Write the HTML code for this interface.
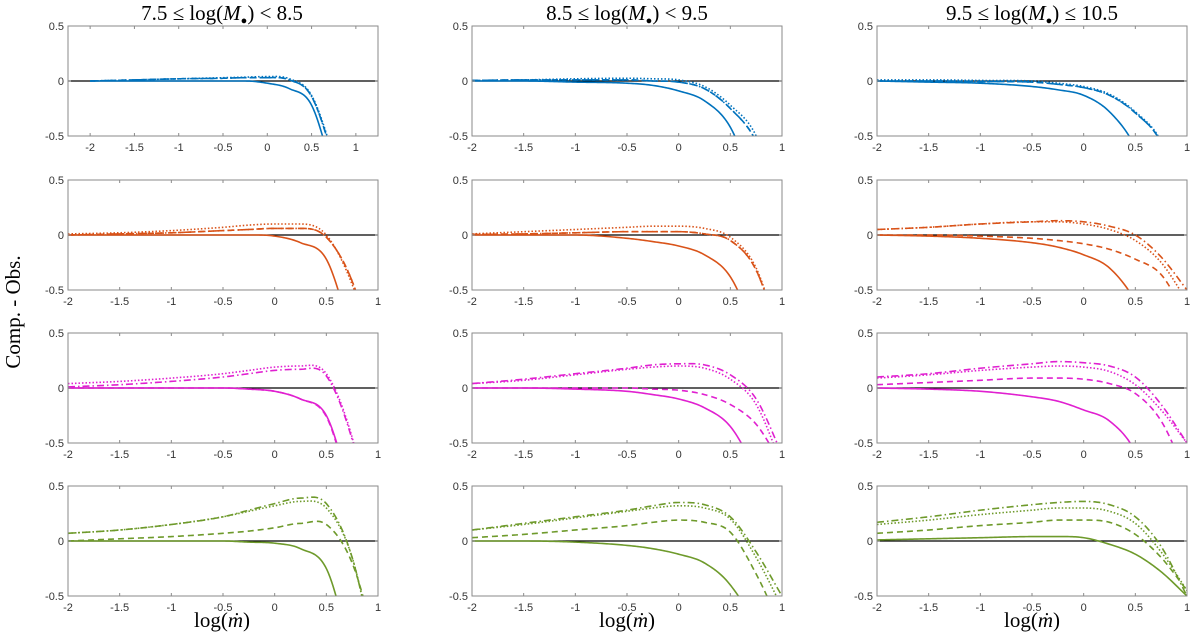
<!DOCTYPE html>
<html><head><meta charset="utf-8">
<style>
html,body{margin:0;background:#fff;width:1200px;height:641px;overflow:hidden;}
svg{display:block;font-family:"Liberation Sans",sans-serif;}
.tk{font-size:11px;fill:#333;}
.ttl{font-family:"Liberation Serif",serif;font-size:21px;fill:#000;}
</style></head>
<body>
<svg id="chart" width="1200" height="641" viewBox="0 0 1200 641" xmlns="http://www.w3.org/2000/svg">
<text class="ttl" x="222" y="20" text-anchor="middle">7.5 ≤ log(<tspan font-style="italic">M</tspan><tspan font-size="11" dy="4">●</tspan><tspan dy="-4">) &lt; 8.5</tspan></text>
<text class="ttl" x="627" y="20" text-anchor="middle">8.5 ≤ log(<tspan font-style="italic">M</tspan><tspan font-size="11" dy="4">●</tspan><tspan dy="-4">) &lt; 9.5</tspan></text>
<text class="ttl" x="1032" y="20" text-anchor="middle">9.5 ≤ log(<tspan font-style="italic">M</tspan><tspan font-size="11" dy="4">●</tspan><tspan dy="-4">) ≤ 10.5</tspan></text>
<text class="ttl" transform="translate(20,312) rotate(-90)" text-anchor="middle" font-size="17">Comp. - Obs.</text>
<text class="ttl" x="222" y="627" text-anchor="middle">log(<tspan font-style="italic">ṁ</tspan>)</text>
<text class="ttl" x="627" y="627" text-anchor="middle">log(<tspan font-style="italic">ṁ</tspan>)</text>
<text class="ttl" x="1032" y="627" text-anchor="middle">log(<tspan font-style="italic">ṁ</tspan>)</text>
</svg>
<script>
const xGrid=[-2,-1.5,-1,-0.5,-0.25,0,0.25,0.5,0.75,1];
const seriesNames=['solid','dashed','dotted','dashdot'];
const yTicks=[0.5,0,-0.5];
const xTicks=[-2,-1.5,-1,-0.5,0,0.5,1];
const rowColors=['#0072BD','#D95319','#E020D0','#6E9A2B'];
const r1c1=[[0,0,0,0,0,-0.02,-0.07,-0.22,-0.85,-1.5],[0,0.01,0.02,0.025,0.03,0.03,0.01,-0.14,-0.72,-1.5],[0,0.01,0.02,0.03,0.035,0.04,0.02,-0.13,-0.7,-1.5],[0,0.01,0.02,0.025,0.03,0.03,0.01,-0.14,-0.72,-1.5]];
const r1c2=[[0,0,-0.01,-0.02,-0.04,-0.09,-0.18,-0.42,-1.0,-1.5],[0.005,0.01,0.01,0.01,0,-0.01,-0.07,-0.25,-0.55,-1.2],[0.005,0.01,0.02,0.025,0.02,0.01,-0.05,-0.22,-0.5,-1.2],[0.005,0.01,0.01,0.01,0,-0.01,-0.07,-0.25,-0.55,-1.2]];
const r1c3=[[0,-0.01,-0.02,-0.05,-0.08,-0.13,-0.28,-0.6,-1.2,-2],[0,0,-0.005,-0.01,-0.03,-0.06,-0.13,-0.29,-0.56,-1.2],[0.01,0.01,0.005,0,-0.02,-0.05,-0.12,-0.28,-0.55,-1.2],[0,0,-0.005,-0.01,-0.03,-0.06,-0.13,-0.29,-0.56,-1.2]];
const r2c1=[[0,0,0,0,0,-0.01,-0.07,-0.22,-0.9,-1.5],[0,0.01,0.02,0.04,0.05,0.06,0.06,-0.02,-0.42,-1.2],[0.01,0.02,0.04,0.07,0.09,0.1,0.1,0,-0.45,-1.2],[0,0.01,0.02,0.04,0.05,0.06,0.06,-0.02,-0.42,-1.2]];
const r2c2=[[0,0,0,-0.03,-0.06,-0.1,-0.18,-0.38,-0.9,-1.5],[0.005,0.01,0.02,0.03,0.03,0.03,0.01,-0.05,-0.32,-1.0],[0.01,0.03,0.05,0.07,0.08,0.08,0.06,-0.02,-0.3,-1.0],[0.005,0.01,0.02,0.03,0.03,0.03,0.01,-0.05,-0.32,-1.0]];
const r2c3=[[0,-0.01,-0.03,-0.07,-0.11,-0.18,-0.3,-0.6,-1.1,-1.8],[0,0,-0.01,-0.03,-0.05,-0.08,-0.13,-0.22,-0.36,-0.75],[0.05,0.07,0.1,0.12,0.12,0.1,0.05,-0.05,-0.25,-0.6],[0.05,0.07,0.1,0.12,0.13,0.12,0.08,0,-0.2,-0.5]];
const r3c1=[[0,0,0,0,-0.01,-0.03,-0.1,-0.25,-0.95,-1.5],[0,0,0,0,-0.01,-0.03,-0.1,-0.26,-0.97,-1.5],[0.04,0.06,0.09,0.13,0.16,0.19,0.2,0.13,-0.45,-1.5],[0.01,0.03,0.06,0.1,0.13,0.16,0.17,0.11,-0.47,-1.5]];
const r3c2=[[0,0,-0.01,-0.03,-0.06,-0.1,-0.18,-0.35,-0.75,-1.2],[0,0,0,0,-0.01,-0.02,-0.06,-0.15,-0.33,-0.7],[0.04,0.07,0.12,0.17,0.19,0.2,0.18,0.08,-0.15,-0.7],[0.04,0.08,0.13,0.18,0.21,0.22,0.21,0.12,-0.1,-0.6]];
const r3c3=[[0,-0.01,-0.03,-0.08,-0.12,-0.2,-0.3,-0.58,-1.2,-2],[0.03,0.05,0.07,0.09,0.09,0.08,0.04,-0.05,-0.3,-0.8],[0.09,0.12,0.16,0.19,0.2,0.19,0.15,0.03,-0.2,-0.5],[0.1,0.13,0.18,0.22,0.24,0.23,0.2,0.1,-0.15,-0.5]];
const r4c1=[[0,0,0,0,-0.01,-0.02,-0.07,-0.25,-1.0,-1.5],[0,0.02,0.04,0.07,0.09,0.12,0.16,0.15,-0.2,-1.0],[0.07,0.1,0.15,0.22,0.27,0.32,0.36,0.3,-0.15,-1.2],[0.07,0.1,0.15,0.22,0.28,0.34,0.39,0.34,-0.15,-1.2]];
const r4c2=[[0,0,-0.01,-0.04,-0.07,-0.12,-0.2,-0.4,-0.8,-1.5],[0.03,0.06,0.1,0.14,0.17,0.19,0.17,0.08,-0.3,-0.8],[0.1,0.15,0.21,0.27,0.3,0.32,0.3,0.2,-0.15,-0.6],[0.1,0.16,0.22,0.28,0.32,0.35,0.33,0.22,-0.1,-0.5]];
const r4c3=[[0.01,0.02,0.03,0.04,0.04,0.03,-0.03,-0.12,-0.28,-0.5],[0.07,0.1,0.14,0.17,0.19,0.19,0.17,0.06,-0.15,-0.45],[0.15,0.19,0.24,0.28,0.3,0.3,0.27,0.16,-0.1,-0.45],[0.17,0.22,0.28,0.33,0.35,0.36,0.33,0.22,-0.05,-0.5]];
const panels=[[r1c1,r1c2,r1c3],[r2c1,r2c2,r2c3],[r3c1,r3c2,r3c3],[r4c1,r4c2,r4c3]];

const NS='http://www.w3.org/2000/svg';
const svg=document.getElementById('chart');
const colX=[68,472,877], rowY=[26,180,333,486], W=310, H=110;
const dashes={solid:'',dashed:'6,4',dotted:'1.5,2',dashdot:'7,3,1.5,3'};
function mk(tag,attrs,parent){const e=document.createElementNS(NS,tag);for(const k in attrs)e.setAttribute(k,attrs[k]);(parent||svg).appendChild(e);return e;}
const defs=mk('defs',{});
function interp(xs,ys,x){ // monotone cubic (Fritsch-Carlson)
  const n=xs.length,d=[],m=[];
  for(let i=0;i<n-1;i++)d.push((ys[i+1]-ys[i])/(xs[i+1]-xs[i]));
  m[0]=d[0];m[n-1]=d[n-2];
  for(let i=1;i<n-1;i++)m[i]=(d[i-1]*d[i]<=0)?0:(d[i-1]+d[i])/2;
  let k=0;while(k<n-2&&x>xs[k+1])k++;
  const h=xs[k+1]-xs[k],t=(x-xs[k])/h,t2=t*t,t3=t2*t;
  return (2*t3-3*t2+1)*ys[k]+(t3-2*t2+t)*h*m[k]+(-2*t3+3*t2)*ys[k+1]+(t3-t2)*h*m[k+1];
}
for(let r=0;r<4;r++)for(let c=0;c<3;c++){
  const x0=colX[c],y0=rowY[r];
  const xmin=(r===0&&c===0)?-2.25:-2, xmax=(r===0&&c===0)?1.25:1;
  const sx=v=>x0+(v-xmin)/(xmax-xmin)*W;
  const sy=v=>y0+(0.5-v)/1*H;
  const g=mk('g',{});
  
  
  const cp=mk('clipPath',{id:'cp'+r+c},defs);
  mk('rect',{x:x0,y:y0,width:W,height:H},cp);
  const zl=mk('line',{x1:x0,x2:x0+W,y1:sy(0),y2:sy(0),stroke:'#000','stroke-width':1.3},g);
  
  
  const data=panels[r][c];
  data.forEach((ys,si)=>{
    let d='';
    const x1=xGrid[xGrid.length-1];
    for(let i=0;i<=200;i++){
      const xv=xGrid[0]+(x1-xGrid[0])*i/200;
      const yv=interp(xGrid,ys,xv);
      d+=(i?'L':'M')+sx(xv).toFixed(2)+','+sy(yv).toFixed(2);
    }
    const p=mk('path',{d:d,fill:'none',stroke:rowColors[r],'stroke-width':1.6,'clip-path':'url(#cp'+r+c+')'},g);
    if(dashes[seriesNames[si]])p.setAttribute('stroke-dasharray',dashes[seriesNames[si]]);
    
    
  });
  const bx=mk('rect',{x:x0,y:y0,width:W,height:H,fill:'none',stroke:'#8a8a8a','stroke-width':1},g);
  
  
  yTicks.forEach(t=>{
    mk('line',{x1:x0,x2:x0+3,y1:sy(t),y2:sy(t),stroke:'#8a8a8a'},g);
    mk('line',{x1:x0+W,x2:x0+W-3,y1:sy(t),y2:sy(t),stroke:'#8a8a8a'},g);
    const tl=mk('text',{x:x0-4,y:sy(t)+4,'text-anchor':'end',class:'tk'},g);
    tl.textContent=String(t);
    
    
  });
  xTicks.forEach(t=>{
    if(t<xmin||t>xmax)return;
    mk('line',{x1:sx(t),x2:sx(t),y1:y0+H,y2:y0+H-3,stroke:'#8a8a8a'},g);
    mk('line',{x1:sx(t),x2:sx(t),y1:y0,y2:y0+3,stroke:'#8a8a8a'},g);
    const tl=mk('text',{x:sx(t),y:y0+H+15,'text-anchor':'middle',class:'tk'},g);
    tl.textContent=String(t);
    
    
  });
}
</script>
</body></html>
